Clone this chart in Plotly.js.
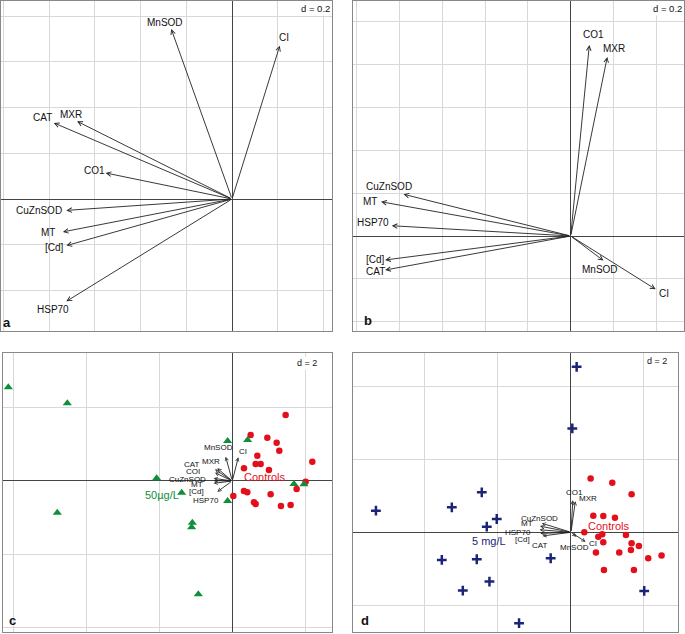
<!DOCTYPE html>
<html><head><meta charset="utf-8">
<script src="https://cdn.plot.ly/plotly-3.0.1.min.js"></script>
<style>html,body{margin:0;padding:0;background:#fff}</style>
</head><body>
<div id="chart" style="width:685px;height:634px"></div>
<script>
// ---------- DATA ----------
var varsAB = ['MnSOD','CI','CAT','MXR','CO1','CuZnSOD','MT','[Cd]','HSP70'];
var varsC  = ['MnSOD','CI','CAT','MXR','COI','CuZnSOD','MT','[Cd]','HSP70'];
var varsD  = ['MnSOD','CI','CAT','MXR','CO1','CuZnSOD','MT','[Cd]','HSP70'];

var loadA_x = [-0.266, 0.209, -0.780, -0.678, -0.553, -0.725, -0.740, -0.725, -0.725];
var loadA_y = [ 0.744, 0.671,  0.333,  0.340,  0.114, -0.050, -0.144, -0.204, -0.448];

var loadB_x = [ 0.153, 0.397, -0.867, 0.171, 0.087, -0.781, -0.886, -0.867, -0.836];
var loadB_y = [-0.115, -0.249, -0.159, 0.837, 0.892, 0.195, 0.160, -0.112, 0.048];

var loadC_x = [-0.182, 0.164, -0.474, -0.410, -0.474, -0.511, -0.511, -0.511, -0.410];
var loadC_y = [ 0.666, 0.648,  0.319,  0.347,  0.228,  0.073,  0.009, -0.064, -0.292];

var loadD_x = [ 0.15, 0.40, -0.78, 0.12, 0.05, -0.80, -0.85, -0.84, -0.86];
var loadD_y = [-0.12, -0.26, -0.10, 0.85, 0.88, 0.25, 0.17, -0.03, 0.07];

var c_treat_x = [-6.128, -4.514, -0.128, 0.419, -2.070, -1.386, -0.128, -4.788, -1.094, -1.113, -0.930, 1.687, 1.961];
var c_treat_y = [ 2.563,  2.125,  1.094, 1.122,  0.073, -0.319, -0.547, -0.866, -1.140, -1.268, -3.101, -0.082, -0.091];
var c_ctrl_x = [1.459, 0.502, 0.958, 1.213, 1.286, 0.684, 0.638, 0.775, 0.319, 1.003, 2.189, 2.006, 1.760, 0.319, 0.410, 0.027, 0.593, 0.638, 1.049, 1.331, 1.596];
var c_ctrl_y = [1.806, 1.258, 1.186, 1.049, 0.830, 0.693, 0.465, 0.465, 0.347, 0.301, 0.529, -0.018, -0.219, -0.274, -0.310, -0.410, -0.584, -0.629, -0.365, -0.684, -0.657];

var d_treat_x = [0.155, 0.036, -2.444, -5.344, -3.265, -2.034, -2.307, -3.539, -2.581, -0.556, -2.234, -2.964, 2.006, -1.423];
var d_treat_y = [4.533, 2.845,  1.094,  0.593,  0.684,  0.365,  0.155, -0.757, -0.739, -0.711, -1.350, -1.596, -1.605, -2.490];
var d_ctrl_x = [0.538, 1.131, 1.660, 0.611, 0.885, 1.204, 0.365, 0.748, 0.857, 0.885, 1.505, 1.660, 1.860, 1.642, 0.684, 1.322, 2.116, 2.481, 0.903, 1.724];
var d_ctrl_y = [1.477, 1.359, 1.040, 0.456, 0.447, 0.401, 0.000, -0.119, -0.055, -0.274, -0.073, -0.301, -0.374, -0.483, -0.556, -0.556, -0.711, -0.638, -1.031, -1.031];

var groupLabelsC = ['50µg/L', 'Controls'];
var groupLabelsD = ['5 mg/L', 'Controls'];
var scaleLabels = ['d = 0.2', 'd = 0.2', 'd = 2', 'd = 2'];
var panelLetters = ['a', 'b', 'c', 'd'];

// ---------- STYLE / LAYOUT ----------
var W = 685, H = 634;
var FONT = 'Liberation Sans, Arial, sans-serif';
var boxes = [[1,1,332,331],[352.5,1,683.5,331],[2.7,352.7,332.3,632.3],[353.3,352.7,678.3,632.3]];
var ranges = [
  {x:[-1.011,0.4376], y:[-0.5777,0.8665], d:0.2},
  {x:[-1.0196,0.5271], y:[-0.4439,1.0981], d:0.2},
  {x:[-6.282,2.736], y:[-4.140,3.510], d:2},
  {x:[-5.964,2.940], y:[-2.740,4.921], d:2}
];
// label offsets (px, [right, down]) relative to arrow tips
var shiftsA = [[-6,-6.7],[4,-7.7],[-11.3,-5],[-6.3,-6.7],[-11,-2.7],[-27.3,0],[-15,1],[-11.7,2.3],[-13.3,8.3]];
var shiftsB = [[-3.3,8.7],[8.7,4],[-10,1.7],[7,-8.3],[4,-11],[-15,-7.7],[-11,-0.7],[-10,-0.7],[-18.3,-3]];
var shiftsC = [[-7.6,-8.9],[4.7,-5.6],[-22.5,-5],[-6.3,-6.6],[-21.7,-1],[-26.1,1],[-17.1,4.3],[-17.1,8],[-11.3,9.1]];
var shiftsD = [[-1.5,10.6],[7.7,2.2],[-2.5,10],[12.9,-3],[1.2,-7.9],[-2.5,-4.9],[-13.3,-2.8],[-17.6,6.6],[-21.9,3]];
var scalePos = [[315,8],[667.7,8.3],[306.7,363],[657.3,361]];
var letterPos = [[2.3,322.7],[363.3,320],[8.3,620],[360,620]];
var groupPosC = [[-1.93,-0.383],[0.875,0.10]];
var groupPosD = [[-2.247,-0.238],[1.022,0.173]];

var GREEN = '#0f8f3a', RED = '#e3101c', NAVY = '#1c2478';
var INK = '#111';

var layout = {
  width: W, height: H, margin:{l:0,r:0,t:0,b:0},
  paper_bgcolor:'#fff', plot_bgcolor:'#fff', showlegend:false,
  font:{family:FONT, size:10, color:INK},
  annotations: []
};
function axisDef(dom, rng, dt, anchor){
  return {domain:dom, range:rng, dtick:dt, tick0:0, showticklabels:false, ticks:'',
    showgrid:true, gridcolor:'#d8d8d8', gridwidth:1,
    zeroline:true, zerolinecolor:'#444', zerolinewidth:1,
    showline:true, mirror:true, linecolor:'#888', linewidth:1,
    anchor:anchor, fixedrange:true};
}
for (var p=0;p<4;p++){
  var b = boxes[p], s = p===0?'':String(p+1);
  layout['xaxis'+s] = axisDef([b[0]/W, b[2]/W], ranges[p].x, ranges[p].d, 'y'+s);
  layout['yaxis'+s] = axisDef([1-b[3]/H, 1-b[1]/H], ranges[p].y, ranges[p].d, 'x'+s);
}

function addArrows(names, xs, ys, p, shifts, fsize, hsize){
  var s = p===0?'':String(p+1);
  for (var i=0;i<names.length;i++){
    layout.annotations.push({x:xs[i], y:ys[i], xref:'x'+s, yref:'y'+s,
      ax:0, ay:0, axref:'x'+s, ayref:'y'+s, text:'', showarrow:true,
      arrowhead:5, arrowsize:hsize, arrowwidth:0.9, arrowcolor:'#222', standoff:0});
    layout.annotations.push({x:xs[i], y:ys[i], xref:'x'+s, yref:'y'+s, text:names[i],
      showarrow:false, xanchor:'center', yanchor:'middle',
      xshift:shifts[i][0], yshift:-shifts[i][1], borderpad:0,
      font:{family:FONT, size:fsize, color:INK}});
  }
}
addArrows(varsAB, loadA_x, loadA_y, 0, shiftsA, 10, 1.0);
addArrows(varsAB, loadB_x, loadB_y, 1, shiftsB, 10, 1.0);
addArrows(varsC, loadC_x, loadC_y, 2, shiftsC, 8, 0.75);
addArrows(varsD, loadD_x, loadD_y, 3, shiftsD, 8, 0.75);

for (var p=0;p<4;p++){
  layout.annotations.push({xref:'paper', yref:'paper', x:scalePos[p][0]/W, y:1-scalePos[p][1]/H,
    text:scaleLabels[p], showarrow:false, xanchor:'center', yanchor:'middle',
    bgcolor:'#fff', borderpad:1, font:{family:FONT, size:p<2?9.5:9, color:INK}});
  layout.annotations.push({xref:'paper', yref:'paper', x:letterPos[p][0]/W, y:1-letterPos[p][1]/H,
    text:'<b>'+panelLetters[p]+'</b>', showarrow:false, xanchor:'left', yanchor:'middle',
    borderpad:0, font:{family:FONT, size:13, color:'#111'}});
}
[[groupLabelsC, groupPosC, 'x3','y3', [GREEN, RED]],[groupLabelsD, groupPosD, 'x4','y4',[NAVY, RED]]].forEach(function(g){
  for (var i=0;i<2;i++){
    layout.annotations.push({xref:g[2], yref:g[3], x:g[1][i][0], y:g[1][i][1], text:g[0][i],
      showarrow:false, xanchor:'center', yanchor:'middle', borderpad:0,
      font:{family:FONT, size:11, color:g[4][i]}});
  }
});

var traces = [
  {type:'scatter', mode:'markers', x:c_ctrl_x, y:c_ctrl_y, xaxis:'x3', yaxis:'y3',
   marker:{symbol:'circle', size:6.5, color:RED}, hoverinfo:'skip'},
  {type:'scatter', mode:'markers', x:c_treat_x, y:c_treat_y, xaxis:'x3', yaxis:'y3',
   marker:{symbol:'triangle-up', size:8, color:GREEN}, hoverinfo:'skip'},
  {type:'scatter', mode:'markers', x:d_ctrl_x, y:d_ctrl_y, xaxis:'x4', yaxis:'y4',
   marker:{symbol:'circle', size:6.5, color:RED}, hoverinfo:'skip'},
  {type:'scatter', mode:'markers', x:d_treat_x, y:d_treat_y, xaxis:'x4', yaxis:'y4',
   marker:{symbol:'cross-thin', size:7, color:NAVY, line:{color:NAVY, width:2.5}}, hoverinfo:'skip'},
  {type:'scatter', mode:'markers', x:[], y:[], xaxis:'x', yaxis:'y'},
  {type:'scatter', mode:'markers', x:[], y:[], xaxis:'x2', yaxis:'y2'}
];

Plotly.newPlot('chart', traces, layout, {staticPlot:true, displayModeBar:false});
</script>
</body></html>
